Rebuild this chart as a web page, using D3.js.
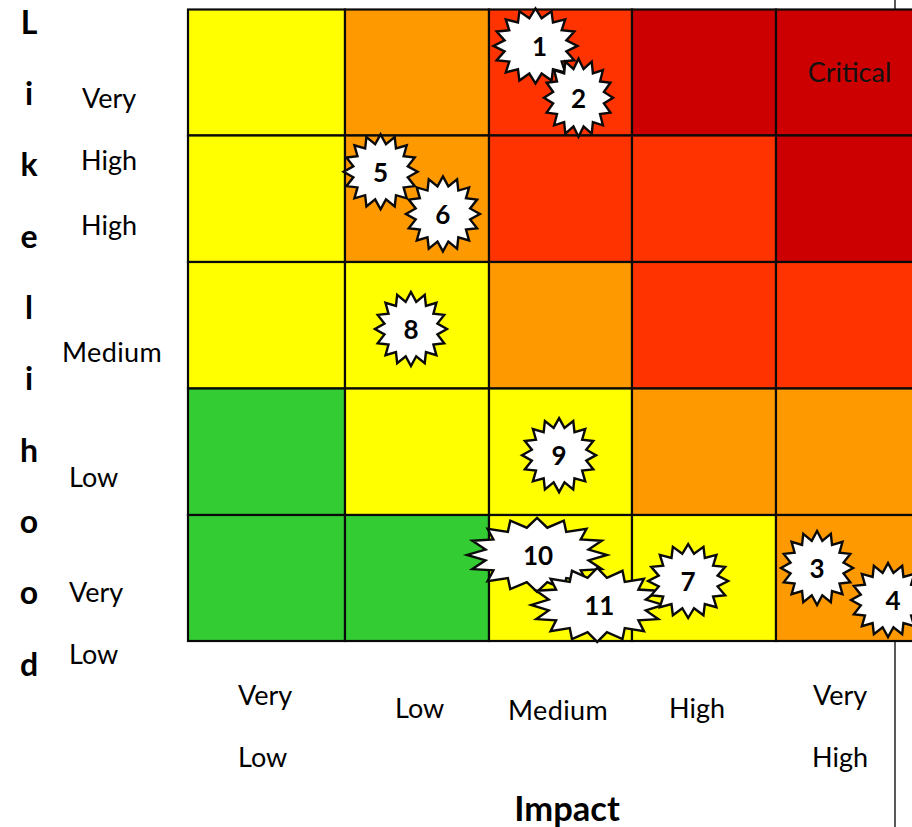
<!DOCTYPE html>
<html><head><meta charset="utf-8">
<script src="https://cdn.jsdelivr.net/npm/d3@7/dist/d3.min.js"></script>
<style>html,body{margin:0;padding:0;background:#fff;overflow:hidden}svg{display:block;font-family:Lato,"Open Sans",sans-serif}</style>
</head><body><div id="chart"></div>
<script>
// ---------- data ----------
const impactLevels = [0,1,2,3,4];
const likelihoodLevels = [4,3,2,1,0];
const green="#33cc33", yellow="#ffff00", orange="#ff9900", red="#ff3300", darkRed="#cc0000";
const row5 = [yellow,orange,red,darkRed,darkRed];
const row4 = [yellow,orange,red,red,darkRed];
const row3 = [yellow,yellow,orange,red,red];
const row2 = [green,yellow,yellow,orange,orange];
const row1 = [green,green,yellow,yellow,orange];
const rows = [row5,row4,row3,row2,row1];
const riskIds        = [1,2,3,4,5,6,8,9,10,11,7];
const riskImpact     = [2.325,2.626,4.285,4.778,1.247,1.68,1.458,2.49,2.336,2.757,3.39];
const riskLikelihood = [4.711,4.30,0.579,0.325,3.713,3.38,2.47,1.473,0.683,0.286,0.476];
const riskRx = [42,34.5,36,37,37,37,36,37,70,66,40];
const riskRy = [37.5,39,37,37,37.5,37.5,37,37,37,37,37];
const riskLabelDx = [4,0,0,5,0,0,0,0,1,2,0];
const yWord = "Likelihood".split("");
const xTexts = ["Very","Low","Low","Medium","High","Very","High"];
const yTexts = ["Very","High","High","Medium","Low","Very","Low"];

// ---------- layout ----------
const W=912,H=827;
const x=d3.scaleLinear().domain([0,1,2,3,4,5]).range([188,345,489,632,776,920]);
const y=d3.scaleLinear().domain([0,1,2,3,4,5]).range([641,515,388.5,262,135.5,9.5]);
const xTextPos=[[238,694],[238,756],[395,707],[508,709],[669,707],[813,694],[812,756]];
const yTextPos=[[82,97],[81,159],[81,224],[62,351],[69,476],[69,591],[69,653]];
const fs=27;

const svg=d3.select("#chart").append("svg").attr("width",W).attr("height",H).attr("viewBox",`0 0 ${W} ${H}`);
svg.append("rect").attr("width",W).attr("height",H).attr("fill","#fff");

// frame line behind the matrix
svg.append("line").attr("x1",895).attr("x2",895).attr("y1",0).attr("y2",H).attr("stroke","#222").attr("stroke-width",1.5);

// cells
rows.forEach((r,ri)=>{
  svg.append("g").selectAll("rect").data(r).join("rect")
    .attr("x",(d,i)=>x(impactLevels[i]))
    .attr("y",y(likelihoodLevels[ri]+1))
    .attr("width",(d,i)=>x(impactLevels[i]+1)-x(impactLevels[i]))
    .attr("height",y(likelihoodLevels[ri])-y(likelihoodLevels[ri]+1))
    .attr("fill",d=>d).attr("stroke","#0a0a0a").attr("stroke-width",2.2);
});

svg.append("text").attr("x",849.5).attr("y",71).attr("text-anchor","middle").attr("dominant-baseline","central")
  .attr("font-size",fs).attr("fill","#111").text("Critical");

// stars (16-point seals)
function seal(rx,ry){
  const n=16,inner=0.75,pts=[];
  for(let i=0;i<n*2;i++){
    const a=Math.PI*i/n-Math.PI/2, k=i%2?inner:1;
    pts.push([Math.cos(a)*rx*k,Math.sin(a)*ry*k]);
  }
  return d3.line()(pts)+"Z";
}
const risks=riskIds.map((id,i)=>({id,cx:x(riskImpact[i]),cy:y(riskLikelihood[i]),rx:riskRx[i],ry:riskRy[i],dx:riskLabelDx[i]}));
const g=svg.append("g").selectAll("g").data(risks).join("g").attr("transform",d=>`translate(${d.cx},${d.cy})`);
g.append("path").attr("d",d=>seal(d.rx,d.ry)).attr("fill","#fff").attr("stroke","#0a0a0a").attr("stroke-width",2.4).attr("stroke-linejoin","miter");
g.append("text").attr("x",d=>d.dx).attr("y",0).attr("text-anchor","middle").attr("dominant-baseline","central")
  .attr("font-size",26).attr("font-weight",700).attr("fill","#000").text(d=>d.id);

// axis texts
svg.append("g").selectAll("text").data(xTexts).join("text")
  .attr("x",(d,i)=>xTextPos[i][0]).attr("y",(d,i)=>xTextPos[i][1]).attr("letter-spacing",d=>d==="Medium"?0.4:0)
  .attr("dominant-baseline","central").attr("font-size",fs).attr("fill","#000").text(d=>d);
svg.append("g").selectAll("text").data(yTexts).join("text")
  .attr("x",(d,i)=>yTextPos[i][0]).attr("y",(d,i)=>yTextPos[i][1]).attr("letter-spacing",d=>d==="Medium"?0.4:0)
  .attr("dominant-baseline","central").attr("font-size",fs).attr("fill","#000").text(d=>d);
const letterY=d3.scaleLinear().domain([0,yWord.length-1]).range([21,663]);
svg.append("g").selectAll("text").data(yWord).join("text")
  .attr("x",29).attr("y",(d,i)=>letterY(i)).attr("text-anchor","middle").attr("dominant-baseline","central")
  .attr("font-size",32).attr("font-weight",700).attr("fill","#000").text(d=>d);
svg.append("text").attr("x",567).attr("y",807).attr("text-anchor","middle").attr("dominant-baseline","central")
  .attr("font-size",34.5).attr("font-weight",700).attr("fill","#000").text("Impact");
</script></body></html>
